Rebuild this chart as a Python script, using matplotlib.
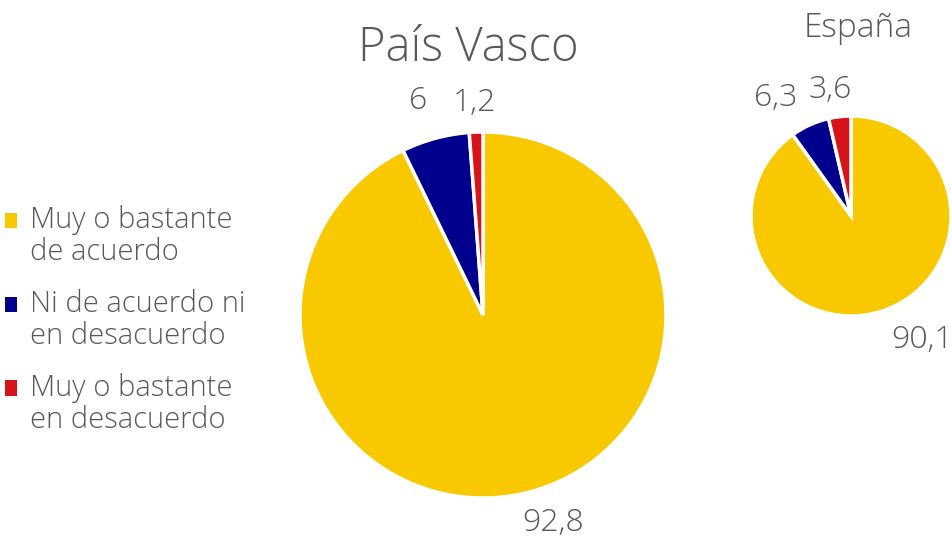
import matplotlib
matplotlib.use("Agg")
import matplotlib.pyplot as plt
from matplotlib.patches import Patch
from matplotlib.transforms import ScaledTranslation

plt.rcParams['font.family'] = ['Open Sans', 'DejaVu Sans']
plt.rcParams['font.weight'] = 'light'

categories = ["Muy o bastante\nde acuerdo", "Ni de acuerdo ni\nen desacuerdo", "Muy o bastante\nen desacuerdo"]
pv_values = [92.8, 6.0, 1.2]
pv_labels = ["92,8", "6", "1,2"]
es_values = [90.1, 6.3, 3.6]
es_labels = ["90,1", "6,3", "3,6"]
colors = ["#F8C900", "#00008C", "#D7141C"]
txt = "#595959"

# label nudges in pixels (x right, y up), like excel's outside-end placement
pv_nudge = [(21, 6), (-8, 2), (0, -7)]
es_nudge = [(31, 0), (-22, 0), (-6, -3)]

W, H = 951, 538
fig = plt.figure(figsize=(W / 100, H / 100), dpi=100)

def pie_axes(cx, cy, r):
    return fig.add_axes([(cx - r) / W, (H - cy - r) / H, 2 * r / W, 2 * r / H])

def draw_pie(ax, values, labels, dist, nudge):
    wedges, texts = ax.pie(values, colors=colors, startangle=90, counterclock=False,
                           labels=labels, labeldistance=dist,
                           wedgeprops=dict(edgecolor="white", linewidth=2.5),
                           textprops=dict(color=txt, fontsize=23))
    ax.set_xlim(-1, 1)
    ax.set_ylim(-1, 1)
    ax.set_aspect("equal")
    for t, (dx, dy) in zip(texts, nudge):
        t.set_clip_on(False)
        t.set_ha("center")
        t.set_va("center")
        t.set_transform(t.get_transform() + ScaledTranslation(dx / 100, dy / 100, fig.dpi_scale_trans))

# Pais Vasco
ax1 = pie_axes(483, 315, 183)
draw_pie(ax1, pv_values, pv_labels, 1.2, pv_nudge)
fig.text(468 / W, 1 - 49 / H, "País Vasco", ha="center", va="center", fontsize=34, color=txt)

# Espana
ax2 = pie_axes(851, 216, 100)
draw_pie(ax2, es_values, es_labels, 1.3, es_nudge)
fig.text(858 / W, 1 - 28 / H, "España", ha="center", va="center", fontsize=24, color=txt)

handles = [Patch(facecolor=c, edgecolor="none") for c in colors]
leg = fig.legend(handles, categories, loc="center left", bbox_to_anchor=(0.005, 1 - 320 / H),
                 frameon=False, fontsize=21, handlelength=0.42, handleheight=0.42,
                 handletextpad=0.45, labelspacing=0.75, borderpad=0.0, borderaxespad=0.0)
for t in leg.get_texts():
    t.set_color(txt)
    t.set_linespacing(1.12)
# squares sit on the first text line, as in the original
for h in leg.legend_handles:
    h.set_y(h.get_y() + 12)

fig.savefig("out.png", dpi=100)
